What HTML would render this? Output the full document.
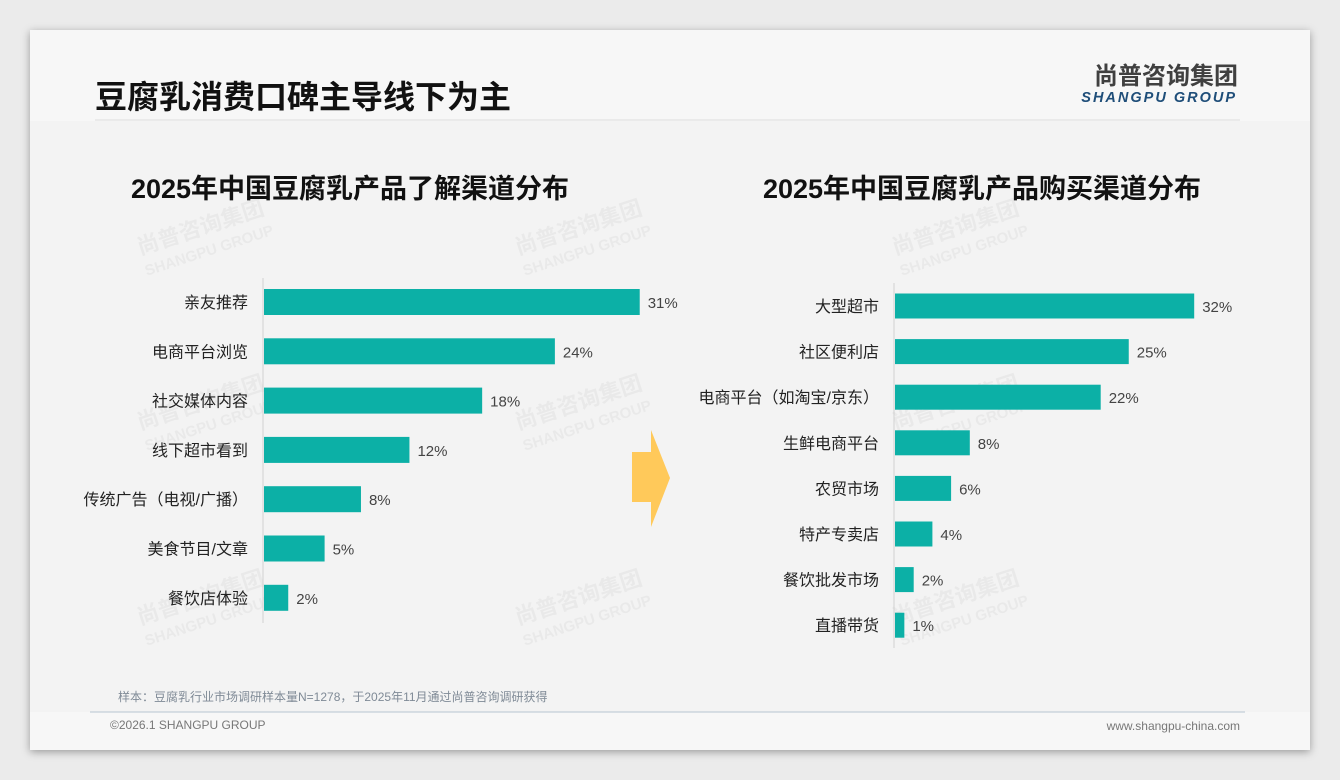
<!DOCTYPE html>
<html><head><meta charset="utf-8">
<style>
body{margin:0;width:1340px;height:780px;background:#ebebeb;font-family:"Liberation Sans","Noto Sans CJK SC",sans-serif;overflow:hidden;position:relative}
.card{position:absolute;left:30px;top:30px;width:1280px;height:720px;background:#f7f7f7;box-shadow:0 2px 8px rgba(0,0,0,.35)}
</style></head><body>
<div class="card"></div>
<svg width="1340" height="780" style="position:absolute;left:0;top:0">
<rect x="30" y="121" width="1280" height="591" fill="#f3f3f3"/>
<line x1="95" y1="120" x2="1240" y2="120" stroke="#dcdcdc"/>
<text x="95" y="108" font-size="32" font-weight="bold" fill="#111" font-family="Liberation Sans,Noto Sans CJK SC,sans-serif">豆腐乳消费口碑主导线下为主</text>
<text x="1238" y="84" text-anchor="end" font-size="24" font-weight="bold" fill="#404040" font-family="Noto Sans CJK SC,sans-serif">尚普咨询集团</text>
<text x="1237" y="102" text-anchor="end" font-size="14.5" font-weight="bold" font-style="italic" fill="#1f4e79" letter-spacing="2" font-family="Liberation Sans,sans-serif">SHANGPU GROUP</text>
<g fill="#000" opacity="0.04" font-weight="bold" font-family="Noto Sans CJK SC,sans-serif">
<g transform="translate(140,255) rotate(-18)"><text font-size="22">尚普咨询集团</text><text y="22" font-size="15" font-family="Liberation Sans">SHANGPU GROUP</text></g>
<g transform="translate(518,255) rotate(-18)"><text font-size="22">尚普咨询集团</text><text y="22" font-size="15" font-family="Liberation Sans">SHANGPU GROUP</text></g>
<g transform="translate(895,255) rotate(-18)"><text font-size="22">尚普咨询集团</text><text y="22" font-size="15" font-family="Liberation Sans">SHANGPU GROUP</text></g>
<g transform="translate(140,430) rotate(-18)"><text font-size="22">尚普咨询集团</text><text y="22" font-size="15" font-family="Liberation Sans">SHANGPU GROUP</text></g>
<g transform="translate(518,430) rotate(-18)"><text font-size="22">尚普咨询集团</text><text y="22" font-size="15" font-family="Liberation Sans">SHANGPU GROUP</text></g>
<g transform="translate(895,430) rotate(-18)"><text font-size="22">尚普咨询集团</text><text y="22" font-size="15" font-family="Liberation Sans">SHANGPU GROUP</text></g>
<g transform="translate(140,625) rotate(-18)"><text font-size="22">尚普咨询集团</text><text y="22" font-size="15" font-family="Liberation Sans">SHANGPU GROUP</text></g>
<g transform="translate(518,625) rotate(-18)"><text font-size="22">尚普咨询集团</text><text y="22" font-size="15" font-family="Liberation Sans">SHANGPU GROUP</text></g>
<g transform="translate(895,625) rotate(-18)"><text font-size="22">尚普咨询集团</text><text y="22" font-size="15" font-family="Liberation Sans">SHANGPU GROUP</text></g>
</g>
<text x="350" y="198" text-anchor="middle" font-size="27" font-weight="bold" fill="#111" font-family="Liberation Sans,Noto Sans CJK SC,sans-serif">2025年中国豆腐乳产品了解渠道分布</text>
<text x="982" y="198" text-anchor="middle" font-size="27" font-weight="bold" fill="#111" font-family="Liberation Sans,Noto Sans CJK SC,sans-serif">2025年中国豆腐乳产品购买渠道分布</text>
<polygon points="632,452 651,452 651,430 670,478 651,527 651,502 632,502" fill="#ffc95a"/>
<g id="left"></g>
<g id="right"></g>
<text x="118" y="701" font-size="12" fill="#7f8a96" font-family="Liberation Sans,Noto Sans CJK SC,sans-serif">样本：豆腐乳行业市场调研样本量N=1278，于2025年11月通过尚普咨询调研获得</text>
<line x1="90" y1="712" x2="1245" y2="712" stroke="#b7c4d0"/>
<text x="110" y="729" font-size="12" fill="#777">©2026.1 SHANGPU GROUP</text>
<text x="1240" y="730" text-anchor="end" font-size="12" fill="#777">www.shangpu-china.com</text>
</svg>
<script>
const leftCats=["亲友推荐","电商平台浏览","社交媒体内容","线下超市看到","传统广告（电视/广播）","美食节目/文章","餐饮店体验"];
const leftVals=[31,24,18,12,8,5,2];
const rightCats=["大型超市","社区便利店","电商平台（如淘宝/京东）","生鲜电商平台","农贸市场","特产专卖店","餐饮批发市场","直播带货"];
const rightVals=[32,25,22,8,6,4,2,1];
const NS="http://www.w3.org/2000/svg";
function draw(gid,cats,vals,x0,pxPer,yTop,step,bh,axTop,axBot,prefix){
  const g=document.getElementById(gid);
  const xs=v=>x0+v*pxPer, ys=i=>yTop+i*step;
  const ax=document.createElementNS(NS,'line');
  ax.setAttribute('x1',x0);ax.setAttribute('x2',x0);ax.setAttribute('y1',axTop);ax.setAttribute('y2',axBot);ax.setAttribute('stroke','#d0d0d0');
  
  
  g.appendChild(ax);
  cats.forEach((c,i)=>{
    const cy=ys(i);
    const r=document.createElementNS(NS,'rect');
    r.setAttribute('x',x0+1);r.setAttribute('y',cy-bh/2);r.setAttribute('width',xs(vals[i])-x0);r.setAttribute('height',bh);r.setAttribute('fill','#0cb0a6');
    
    
    g.appendChild(r);
    const t=document.createElementNS(NS,'text');
    t.setAttribute('x',x0-15);t.setAttribute('y',cy+6);t.setAttribute('text-anchor','end');t.setAttribute('font-size','16');t.setAttribute('fill','#222');
    t.textContent=c;
    
    
    g.appendChild(t);
    const v=document.createElementNS(NS,'text');
    v.setAttribute('x',xs(vals[i])+9);v.setAttribute('y',cy+6);v.setAttribute('font-size','15');v.setAttribute('fill','#444');
    v.textContent=vals[i]+'%';
    
    
    g.appendChild(v);
  });
}
draw('left',leftCats,leftVals,263,12.12,302,49.3,26,278,623,'left');
draw('right',rightCats,rightVals,894,9.35,306,45.6,25,283,648,'right');
</script>
</body></html>
